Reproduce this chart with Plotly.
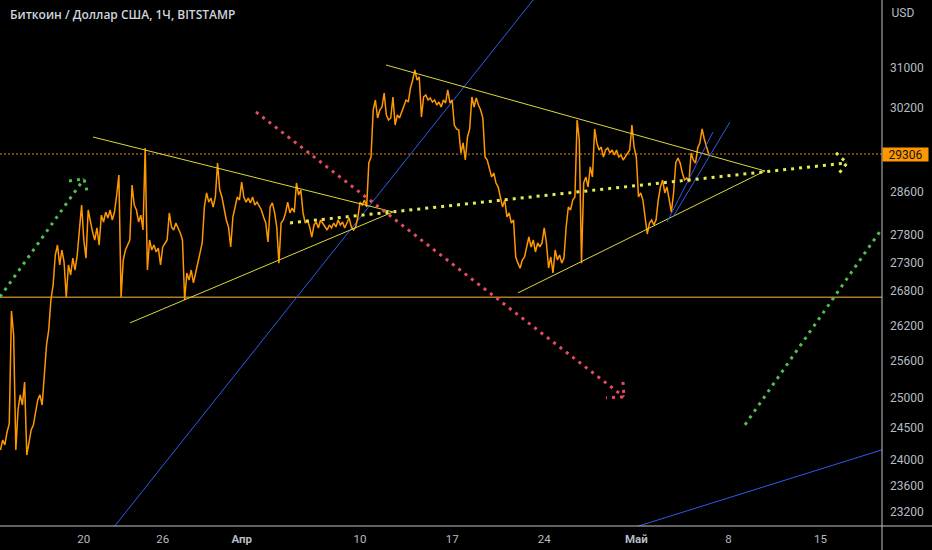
import numpy as np
import pandas as pd
import plotly.graph_objects as go

# ---------------- data ----------------
title_text = "Биткоин / Доллар США, 1Ч, BITSTAMP"
start_time = "2023-03-13 16:00"   # first close, 4-hour sampling of the hourly chart
close_prices = [
    24155, 24313, 24235, 24440, 24570, 26450, 26040, 24155, 24794, 25040,
    24875, 25250, 24075, 24313, 24473, 24550, 24794, 24957, 25040, 24875,
    25367, 25870, 26124, 26641, 26900, 27435, 27615, 27257, 27525, 27310,
    26690, 27257, 27080, 27380, 27168, 27435, 27888, 28346, 27706, 27380,
    28254, 28034, 27850, 27706, 27925, 27615, 28160, 28034, 28216, 28106,
    28254, 28070, 28216, 28532, 28907, 26690, 27346, 27525, 27615, 27706,
    28719, 28346, 28254, 28034, 28160, 27888, 29421, 27168, 27706, 27525,
    27615, 27490, 27560, 27257, 27580, 27652, 27706, 28200, 27943, 27888,
    28015, 27925, 27834, 27706, 26641, 27115, 26991, 27168, 26940, 27115,
    27290, 27470, 27652, 28310, 28570, 28400, 28475, 28310, 28495, 29135,
    28625, 28495, 28254, 28070, 27943, 27580, 28125, 28310, 28495, 28439,
    28775, 28495, 28400, 28475, 28385, 28495, 28346, 28400, 28310, 28254,
    28125, 28015, 27670, 28310, 28385, 28216, 27943, 27290, 28015, 28070,
    28200, 28400, 28200, 28290, 28216, 28757, 28532, 28625, 28200, 28015,
    28070, 27943, 27760, 27980, 28034, 27925, 28070, 28015, 27943, 27888,
    27980, 27925, 28015, 27943, 28070, 27980, 28034, 27925, 28015, 28106,
    27943, 27888, 27943, 28125, 28400, 28346, 28439, 28310, 29135, 29250,
    30161, 30359, 30004, 30161, 30220, 30498, 30063, 29965, 30004, 30419,
    29867, 30063, 30004, 30122, 30220, 30359, 30319, 30598, 30758, 30960,
    30758, 30818, 30024, 30419, 30458, 30359, 30399, 30319, 30359, 30260,
    30319, 30220, 30359, 30300, 30558, 30300, 30359, 29867, 29790, 29770,
    29325, 29520, 29192, 29635, 29790, 30419, 30220, 30399, 30260, 30161,
    30004, 29250, 29192, 29002, 28870, 28945, 28757, 28681, 28495, 28310,
    28439, 28125, 28200, 28015, 28070, 27400, 27290, 27200, 27346, 27400,
    27580, 27760, 27580, 27706, 27490, 27652, 27580, 27652, 27925, 27652,
    27203, 27400, 27115, 27525, 27346, 27435, 27290, 27380, 27943, 28310,
    28254, 28439, 28495, 29965, 29576, 27290, 28757, 28870, 28681, 29060,
    28870, 29790, 29520, 29383, 29440, 29250, 29383, 29421, 29325, 29383,
    29287, 29383, 29250, 29287, 29192, 29250, 29325, 29383, 29867, 29440,
    29250, 28495, 28570, 28439, 28125, 27815, 28015, 28070, 27980, 28070,
    28439, 28681, 28813, 28570, 28681, 28439, 28216, 28570, 29135, 29230,
    29135, 28945, 28813, 28850, 28775, 29325, 29192, 29135, 29421, 29520,
    29790, 29596, 29440, 29306,
]
times = pd.date_range(start_time, periods=len(close_prices), freq="4h")

last_price = 29306
support_level = 26690

x_range = ["2023-03-13 15:07", "2023-05-19 16:15"]
y_range = [22985, 32408]

x_tick_dates = ["2023-03-20", "2023-03-26", "2023-04-01", "2023-04-10", "2023-04-17",
                "2023-04-24", "2023-05-01", "2023-05-08", "2023-05-15"]
x_tick_labels = ["20", "26", "<b>Апр</b>", "10", "17", "24", "<b>Май</b>", "8", "15"]
y_tick_values = [23200, 23600, 24000, 24500, 25000, 25600, 26200, 26800, 27300,
                 27800, 28600, 30200, 31000]

# drawings: (dates, prices)
left_tri_upper = (["2023-03-20 16:47", "2023-04-12 12:07"], [29634, 28218])
left_tri_lower = (["2023-03-23 12:17", "2023-04-12 12:07"], [26246, 28218])
right_tri_upper = (["2023-04-11 23:21", "2023-05-10 18:47"], [31061, 28984])
right_tri_lower = (["2023-04-22 00:10", "2023-05-10 18:47"], [26765, 28984])

yellow_arrow = (["2023-04-04 16:12", "2023-05-17 00:23"], [28017, 29136])
yellow_head = (["2023-05-16 04:19", "2023-05-17 00:23", "2023-05-16 06:08"], [29327, 29136, 28890])

green_left_arrow = (["2023-03-13 15:07", "2023-03-20 00:22"], [26695, 28833])
green_left_head = (["2023-03-18 21:00", "2023-03-20 00:22", "2023-03-20 07:40"], [28796, 28833, 28533])
green_right_arrow = (["2023-05-09 06:17", "2023-05-19 14:25"], [24556, 27889])

red_arrow = (["2023-04-02 02:10", "2023-04-30 01:32"], [30122, 25008])
red_head = (["2023-04-29 23:43", "2023-04-30 01:32", "2023-04-28 16:42"], [25254, 25008, 24992])

blue_long = (["2023-03-21 18:20", "2023-04-23 18:07"], [22838, 32619])
blue_bottom = (["2023-04-29 18:14", "2023-05-20 06:50"], [22898, 24197])
blue_short_a = (["2023-05-03 08:00", "2023-05-06 19:55"], [28035, 29731])
blue_short_b = (["2023-05-03 18:56", "2023-05-08 02:56"], [28127, 29926])

# ---------------- styles ----------------
BG = "#000000"
AXIS_TXT = "#b8bbc3"
ORANGE = "#ff9800"
YELLOW = "#dcd83c"
YELLOW_DOT = "#e4ec50"
GREEN_DOT = "#4fbf4f"
RED_DOT = "#e84a5f"
BLUE = "#2f5bea"
DOTS = "3px,5px"

fig = go.Figure()


def add_line(pts, color, width=1, dash=None):
    fig.add_trace(go.Scatter(
        x=pts[0], y=pts[1], mode="lines",
        line=dict(color=color, width=width, dash=dash),
        hoverinfo="skip", showlegend=False))


# horizontal levels
add_line((x_range, [support_level, support_level]), "#b07a2c", 1.5)
add_line((x_range, [last_price, last_price]), "#e08a1c", 1, "2px,2px")

# blue trend lines
for seg in (blue_long, blue_bottom):
    add_line(seg, BLUE, 1)

# price
fig.add_trace(go.Scatter(x=times, y=close_prices, mode="lines",
                         line=dict(color=ORANGE, width=1.5),
                         hoverinfo="skip", showlegend=False))

# triangles
for seg in (left_tri_upper, left_tri_lower, right_tri_upper, right_tri_lower):
    add_line(seg, YELLOW, 1)
for seg in (blue_short_a, blue_short_b):
    add_line(seg, BLUE, 1)

# dotted arrows
add_line(yellow_arrow, YELLOW_DOT, 3, DOTS)
add_line(yellow_head, YELLOW_DOT, 3, DOTS)
add_line(green_left_arrow, GREEN_DOT, 3, DOTS)
add_line(green_left_head, GREEN_DOT, 3, DOTS)
add_line(green_right_arrow, GREEN_DOT, 3, DOTS)
add_line(red_arrow, RED_DOT, 3, DOTS)
add_line(red_head, RED_DOT, 3, DOTS)

tick_font = dict(family="Roboto", size=12, color=AXIS_TXT)

fig.update_layout(
    width=932, height=550,
    margin=dict(l=0, r=50, t=0, b=24),
    paper_bgcolor=BG, plot_bgcolor=BG,
    showlegend=False,
    xaxis=dict(type="date", range=x_range, tickvals=x_tick_dates, ticktext=x_tick_labels,
               showgrid=False, zeroline=False, showline=False, ticks="",
               tickfont=dict(family="Roboto", size=11.5, color=AXIS_TXT),
               ticklabelstandoff=4, fixedrange=True),
    yaxis=dict(type="log", side="right",
               range=[float(np.log10(y_range[0])), float(np.log10(y_range[1]))],
               tickvals=y_tick_values, ticktext=[str(v) for v in y_tick_values],
               showgrid=False, zeroline=False, showline=False, ticks="",
               tickfont=tick_font, ticklabelstandoff=7, fixedrange=True),
    shapes=[
        dict(type="line", xref="paper", yref="paper", x0=0, x1=932 / 882, y0=0, y1=0,
             line=dict(color="#c4c4c4", width=1), layer="above"),
        dict(type="line", xref="paper", yref="paper", x0=1, x1=1, y0=-24 / 526, y1=1,
             line=dict(color="#c4c4c4", width=1), layer="above"),
    ],
    annotations=[
        dict(text=title_text, xref="paper", yref="paper", x=8 / 882, y=1,
             xanchor="left", yanchor="middle", yshift=-14, showarrow=False,
             font=dict(family="Open Sans", size=12, color="#d1d4dc", weight=600)),
        dict(text="USD", xref="paper", yref="paper", x=1, y=1, xanchor="left", yanchor="top",
             xshift=1, yshift=-1, width=36, height=19, borderpad=1, align="center",
             bgcolor=BG, showarrow=False, font=tick_font),
        dict(text=str(last_price), xref="paper", yref="y", x=1, y=float(np.log10(last_price)),
             xanchor="left", yanchor="middle", width=45, height=13, borderpad=0,
             align="center", bgcolor=ORANGE, showarrow=False,
             font=dict(family="Roboto", size=12, color="#131313")),
    ],
)

fig.write_html("out.html", config={"displayModeBar": False, "staticPlot": True},
               post_script="document.body.style.margin='0px';document.body.style.overflow='hidden';")
